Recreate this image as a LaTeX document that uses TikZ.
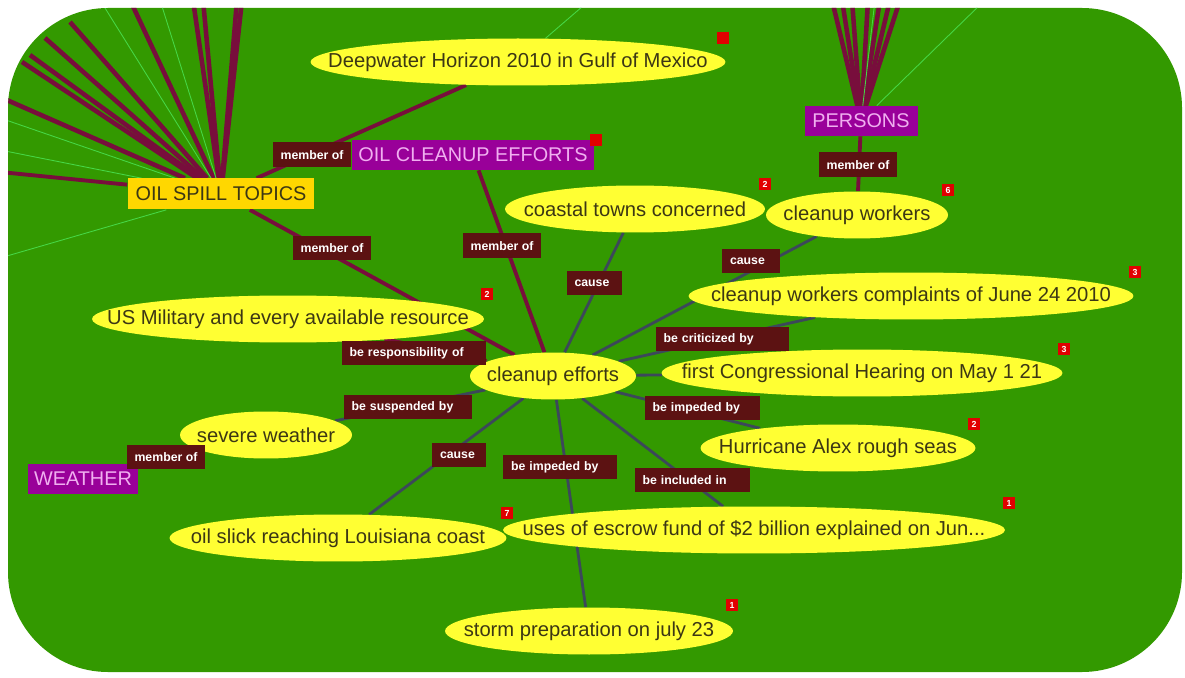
\documentclass[tikz,border=0pt]{standalone}
\usepackage{fontspec}
\setmainfont{Liberation Sans}
\usetikzlibrary{shapes.geometric,backgrounds}

\definecolor{mapgreen}{RGB}{51,153,0}
\definecolor{faintgreen}{RGB}{70,215,70}
\definecolor{topicyellow}{RGB}{255,255,51}
\definecolor{topictext}{RGB}{60,55,20}
\definecolor{setyellow}{RGB}{255,215,0}
\definecolor{grouppurple}{RGB}{153,0,153}
\definecolor{grouptext}{RGB}{240,175,240}
\definecolor{relbrown}{RGB}{92,18,18}
\definecolor{linkmaroon}{RGB}{120,14,60}
\definecolor{linkgray}{RGB}{60,72,90}
\definecolor{badgered}{RGB}{225,0,0}

% zero-width text, so that the oval keeps its own size
\newcommand{\ovaltext}[1]{\makebox[0pt]{#1}}

\begin{document}
\begin{tikzpicture}[
		x=0.02cm, y=-0.02cm,
		topic/.style={ellipse, fill=topicyellow, text=topictext, inner sep=0pt,
			minimum height=0.94cm, font=\fontsize{11.5}{13}\selectfont},
		group/.style={rectangle, fill=grouppurple, text=grouptext, inner sep=0pt,
			minimum height=0.6cm, font=\fontsize{11.3}{13}\selectfont},
		rel/.style={rectangle, fill=relbrown, text=white, inner xsep=0.16cm,
			inner ysep=0pt, minimum height=0.5cm, align=left,
			font=\bfseries\fontsize{7}{8}\selectfont},
		badge/.style={rectangle, fill=badgered, text=white, inner sep=0pt,
			minimum size=0.24cm, font=\bfseries\fontsize{5}{5}\selectfont},
		member/.style={draw=linkmaroon, line width=2.2pt},
		link/.style={draw=linkgray, line width=1.6pt},
		fan/.style={draw=linkmaroon, line width=2.6pt},
		faint/.style={draw=faintgreen, line width=0.5pt}
		]
		
		\useasboundingbox (0,0) rectangle (1185,678);
		
		% ---- Map canvas ----
		\begin{scope}[on background layer]
			\fill[mapgreen, rounded corners=2cm] (8,8) rectangle (1182,672);
		\end{scope}
		
		% ---- Sets ----
		\node[rectangle, fill=setyellow, text=topictext, inner sep=0pt,
			minimum width=3.74cm, minimum height=0.62cm,
			font=\fontsize{11.3}{13}\selectfont] (spill) at (221,194) {OIL SPILL TOPICS};
		\node[group, minimum width=4.86cm] (ocleanup) at (473,155) {OIL CLEANUP EFFORTS};
		\node[group, minimum width=2.26cm] (persons) at (861,121) {PERSONS};
		\node[group, minimum width=2.22cm] (weather) at (83,479) {WEATHER};
		
		% ---- Topics ----
		\node[topic, minimum width=8.3cm] (deep) at (518,62)
		{\ovaltext{Deepwater Horizon 2010 in Gulf of Mexico}};
		\node[topic, minimum width=5.2cm] (coastal) at (635,209)
		{\ovaltext{coastal towns concerned}};
		\node[topic, minimum width=3.64cm] (workers) at (857,215)
		{\ovaltext{cleanup workers}};
		\node[topic, minimum width=8.9cm] (complaints) at (911,296)
		{\ovaltext{cleanup workers complaints of June 24 2010}};
		\node[topic, minimum width=7.84cm] (military) at (288,319)
		{\ovaltext{US Military and every available resource}};
		\node[topic, minimum width=3.32cm] (effort) at (553,376)
		{\ovaltext{cleanup efforts}};
		\node[topic, minimum width=8.02cm] (congress) at (862,373)
		{\ovaltext{first Congressional Hearing on May 1 21}};
		\node[topic, minimum width=3.44cm] (severe) at (266,435)
		{\ovaltext{severe weather}};
		\node[topic, minimum width=5.5cm] (hurricane) at (838,448)
		{\ovaltext{Hurricane Alex rough seas}};
		\node[topic, minimum width=6.74cm] (slick) at (338,538)
		{\ovaltext{oil slick reaching Louisiana coast}};
		\node[topic, minimum width=10.04cm] (escrow) at (754,530)
		{\ovaltext{uses of escrow fund of \$2 billion explained on Jun...}};
		\node[topic, minimum width=5.76cm] (storm) at (589,631)
		{\ovaltext{storm preparation on july 23}};
		
		% ---- Relation labels ----
		\node[rel] (r1) at (312,155) {member of};
		\node[rel] (r2) at (332,248) {member of};
		\node[rel] (r3) at (502,246) {member of};
		\node[rel] (r4) at (858,165) {member of};
		\node[rel] (r5) at (166,457) {member of};
		\node[rel, text width=0.78cm] (r6) at (594,283) {cause};
		\node[rel, text width=0.84cm] (r7) at (751,261) {cause};
		\node[rel, text width=0.76cm] (r8) at (459,455) {cause};
		\node[rel, text width=2.58cm] (r9) at (414,353) {be responsibility of};
		\node[rel, text width=2.34cm] (r10) at (722,339) {be criticized by};
		\node[rel, text width=2.26cm] (r11) at (408,407) {be suspended by};
		\node[rel, text width=1.98cm] (r12) at (702,408) {be impeded by};
		\node[rel, text width=1.96cm] (r13) at (560,467) {be impeded by};
		\node[rel, text width=1.98cm] (r14) at (692,480) {be included in};
		
		% ---- Counters ----
		\node[badge] (b1) at (723,38) {};
		\node[badge] (b2) at (596,140) {};
		\node[badge] (b3) at (765,184) {2};
		\node[badge] (b4) at (948,190) {6};
		\node[badge] (b5) at (1135,272) {3};
		\node[badge] (b6) at (487,294) {2};
		\node[badge] (b7) at (1064,349) {3};
		\node[badge] (b8) at (974,424) {2};
		\node[badge] (b9) at (1009,503) {1};
		\node[badge] (b10) at (507,513) {7};
		\node[badge] (b11) at (732,605) {1};
		
		% ---- Connectors ----
		\begin{scope}[on background layer]
			\clip[rounded corners=2cm] (8,8) rectangle (1182,672);
			% fans to hidden members
			\foreach \fx/\fy in {70/22, 45/38, 30/55, 22/62, 0/97, 130/0, 193/0,
				203/0, 237/0, 242/0}
				\draw[fan] (spill) -- (\fx,\fy);
			\draw[member] (spill) -- (0,172);
			\foreach \fx in {832, 842, 852, 868, 880, 890, 900}
				\draw[fan] (persons) -- (\fx,0);
			\foreach \fx/\fy in {0/150, 0/118, 100/0, 160/0, 0/258}
				\draw[faint] (spill) -- (\fx,\fy);
			\draw[faint] (persons) -- (985,0);
			\draw[faint] (persons) -- (875,0);
			\draw[faint] (deep) -- (590,0);
			% member of
			\draw[member] (deep) -- (spill);
			\draw[member] (spill) -- (effort);
			\draw[member] (ocleanup) -- (effort);
			\draw[member] (persons) -- (workers);
			\draw[member] (weather) -- (severe);
			\draw[member, line width=3pt] (military) -- (effort);
			% relations of cleanup efforts
			\draw[link] (effort) -- (coastal);
			\draw[link] (effort) -- (workers);
			\draw[link] (effort) -- (complaints);
			\draw[link] (effort) -- (congress);
			\draw[link] (effort) -- (hurricane);
			\draw[link] (effort) -- (escrow);
			\draw[link] (effort) -- (storm);
			\draw[link] (effort) -- (slick);
			\draw[link] (effort) -- (severe);
		\end{scope}
	\end{tikzpicture}
\end{document}
